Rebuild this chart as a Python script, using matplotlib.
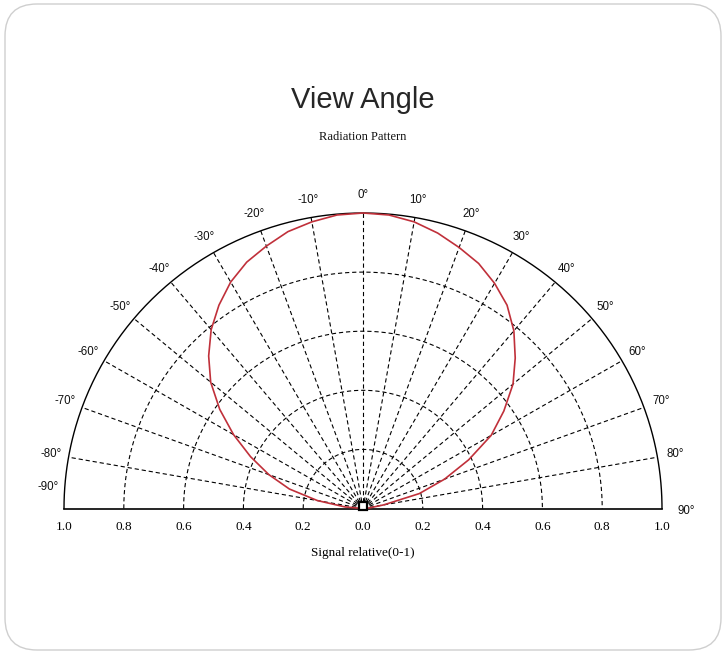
import numpy as np
import matplotlib
matplotlib.use("Agg")
import matplotlib.pyplot as plt
from matplotlib.patches import FancyBboxPatch
from matplotlib.transforms import offset_copy

# ---- data ----
angles_deg = [-90, -85, -80, -75, -70, -65, -60, -55, -50, -45, -40, -35, -30, -25, -20, -15, -10, -5,
              0, 5, 10, 15, 20, 25, 30, 35, 40, 45, 50, 55, 60, 65, 70, 75, 80, 85, 90]
signal = [0.0, 0.06, 0.155, 0.255, 0.335, 0.415, 0.50, 0.585, 0.665, 0.73, 0.79, 0.84, 0.885, 0.92, 0.945, 0.97, 0.985, 0.997,
          1.0, 0.997, 0.985, 0.965, 0.94, 0.915, 0.88, 0.84, 0.785, 0.72, 0.655, 0.575, 0.495, 0.39, 0.29, 0.195, 0.07, 0.02, 0.0]
grid_radii = [0.2, 0.4, 0.6, 0.8]
grid_angles = [-80, -70, -60, -50, -40, -30, -20, -10, 0, 10, 20, 30, 40, 50, 60, 70, 80]
label_angles = [-90, -80, -70, -60, -50, -40, -30, -20, -10, 0, 10, 20, 30, 40, 50, 60, 70, 80, 90]
x_ticks = [-1.0, -0.8, -0.6, -0.4, -0.2, 0.0, 0.2, 0.4, 0.6, 0.8, 1.0]
title = "View Angle"
subtitle = "Radiation Pattern"
xlabel = "Signal relative(0-1)"

W, H = 726, 654
fig = plt.figure(figsize=(W / 100, H / 100), dpi=100)
fig.patch.set_facecolor("white")

# slide frame
frame = FancyBboxPatch((0.05, 0.04), 7.16, 6.46,
                       boxstyle="round,pad=0,rounding_size=0.32",
                       transform=fig.dpi_scale_trans, ec="#cfcfcf", fc="none", lw=1.0)
fig.patches.append(frame)

cx, cy, rx, ry = 363, 508.5, 299, 295.5
ax = fig.add_axes([(cx - rx) / W, (H - cy) / H, 2 * rx / W, ry / H])
ax.set_xlim(-1, 1)
ax.set_ylim(0, 1)
ax.set_facecolor("none")
for s in ["top", "left", "right"]:
    ax.spines[s].set_visible(False)
ax.spines["bottom"].set_linewidth(1.2)
ax.spines["bottom"].set_color("black")
ax.set_yticks([])

dash = (0, (3.8, 2.6))
t = np.linspace(-np.pi / 2, np.pi / 2, 400)
# outer solid arc
ax.plot(np.sin(t), np.cos(t), color="black", lw=1.0, clip_on=False, zorder=3)
# dashed circles
for r in grid_radii:
    ax.plot(r * np.sin(t), r * np.cos(t), color="black", lw=0.8, ls=dash, zorder=2)
# dashed radial lines
for a in grid_angles:
    th = np.deg2rad(a)
    ax.plot([0, np.sin(th)], [0, np.cos(th)], color="black", lw=0.8, ls=dash, zorder=2)

# radiation pattern curve
th = np.deg2rad(angles_deg)
sig = np.array(signal)
ax.plot(sig * np.sin(th), sig * np.cos(th), color="#c0303a", lw=1.2, zorder=4, clip_on=False,
        solid_joinstyle="round")

# pole marker
pole_tr = offset_copy(ax.transData, fig=fig, x=0, y=3, units="dots")
ax.plot([0], [0], marker="s", ms=5.5, mfc="white", mec="black", mew=1.6, transform=pole_tr,
        clip_on=False, zorder=5)

# angle labels
for a in label_angles:
    thr = np.deg2rad(a)
    r = 1.06
    dx, dy = 0, 0
    if a == -90:
        dx, dy = 2, 22
    if a == 90:
        dx, dy = 6, -2
    tr = offset_copy(ax.transData, fig=fig, x=dx, y=dy, units="dots")
    ax.text(r * np.sin(thr), r * np.cos(thr), f"{a}°", transform=tr, ha="center", va="center",
            fontsize=8.3, family="Liberation Sans", color="#111111", clip_on=False)

# x ticks
ax.set_xticks(x_ticks)
ax.set_xticklabels([f"{abs(v):.1f}" for v in x_ticks], family="Liberation Serif", fontsize=9.5)
ax.tick_params(axis="x", length=0, pad=9)
ax.set_xlabel(xlabel, family="Liberation Serif", fontsize=9.5, labelpad=10)

fig.text(0.5, 1 - 100 / H, title, ha="center", va="center", fontsize=21,
         family="Liberation Sans", color="#262626")
fig.text(0.5, 1 - 137 / H, subtitle, ha="center", va="center", fontsize=9,
         family="Liberation Serif", color="#111111")

fig.savefig("out.png", dpi=100)
